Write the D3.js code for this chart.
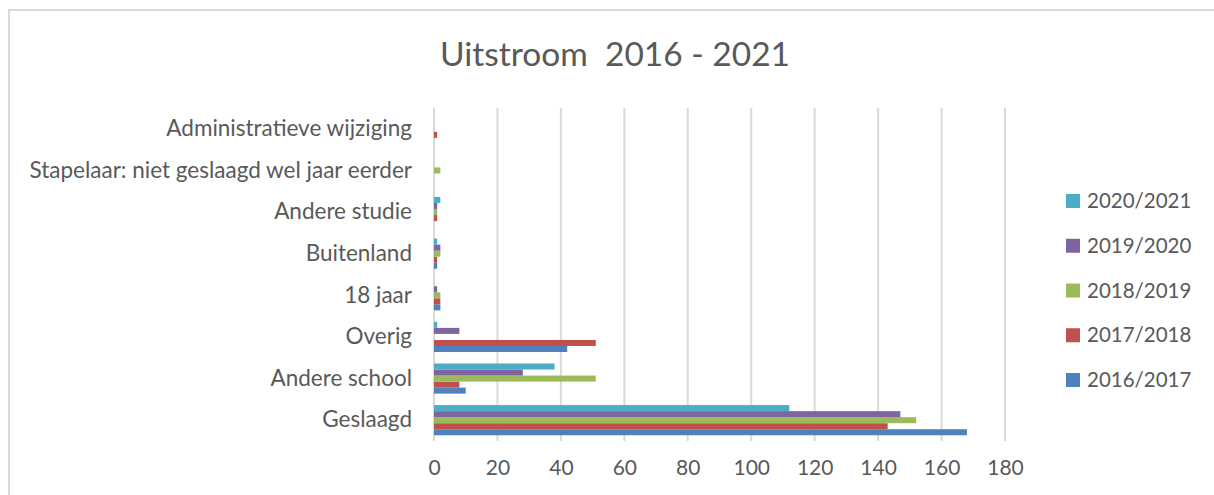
<!DOCTYPE html>
<html lang="nl">
<head>
    <meta charset="UTF-8">
    <title>Uitstroom 2016 - 2021</title>
    <script src="https://d3js.org/d3.v7.min.js"></script>
    <style>
        body{
            margin: 0;
            background: #ffffff;
        }
        text{
            font-family: Lato, sans-serif;
            fill: #595959;
            white-space: pre;
        }
        .grid line{
            stroke: #d9d9d9;
            stroke-width: 2px;
        }
    </style>
</head>
<body>
<svg id="canvas" width="1214" height="495"></svg>
<script>
    // categories, bottom to top as drawn
    let categories = ["Geslaagd", "Andere school", "Overig", "18 jaar", "Buitenland",
        "Andere studie", "Stapelaar: niet geslaagd wel jaar eerder", "Administratieve wijziging"]
    let seriesNames = ["2016/2017", "2017/2018", "2018/2019", "2019/2020", "2020/2021"]
    let colors = ["#4f81bd", "#c0504d", "#9bbb59", "#8064a2", "#4bacc6"]
    let v2016 = [168, 10, 42, 2, 1, 0, 0, 0]
    let v2017 = [143, 8, 51, 2, 1, 1, 0, 1]
    let v2018 = [152, 51, 0, 2, 2, 1, 2, 0]
    let v2019 = [147, 28, 8, 1, 2, 1, 0, 0]
    let v2020 = [112, 38, 1, 0, 1, 2, 0, 0]
    let xTicks = [0, 20, 40, 60, 80, 100, 120, 140, 160, 180]

    let series = [v2016, v2017, v2018, v2019, v2020]
    let svg = d3.select("#canvas")

    // chart border
    svg.append("rect")
        .attr("x", 9).attr("y", 10)
        .attr("width", 1220).attr("height", 500)
        .attr("fill", "white")
        .attr("stroke", "#d9d9d9").attr("stroke-width", 2)

    svg.append("text")
        .attr("x", 615).attr("y", 66)
        .attr("text-anchor", "middle")
        .style("font-size", "33.5px")
        .text("Uitstroom  2016 - 2021")

    let xScale = d3.scaleLinear().domain([0, 180]).range([434, 1005])
    // Geslaagd at bottom
    let yScale = d3.scaleBand().domain(categories).range([441, 108])
    let inner = d3.scaleBand().domain(d3.range(5).reverse())
        .range([0, yScale.bandwidth()]).paddingOuter(0.95)

    let grid = svg.append("g").attr("class", "grid")
    grid.selectAll("line").data(xTicks).join("line")
        .attr("x1", d => xScale(d)).attr("x2", d => xScale(d))
        .attr("y1", 108).attr("y2", 441)

    let groups = svg.append("g").selectAll("g").data(series).join("g")
        .attr("fill", (d, i) => colors[i])
    groups.each(function (vals, si) {
        d3.select(this).selectAll("rect").data(vals).join("rect")
            .attr("x", xScale(0))
            .attr("y", (d, ci) => yScale(categories[ci]) + inner(si))
            .attr("width", d => xScale(d) - xScale(0))
            .attr("height", inner.bandwidth())
    })

    let xAxis = d3.axisBottom(xScale).tickValues(xTicks).tickSize(0).tickPadding(0)
    let gx = svg.append("g").attr("transform", "translate(0,468)").call(xAxis)
    gx.select(".domain").remove()
    gx.selectAll("text").attr("dy", "0.35em").style("font-size", "21px").attr("fill", "#595959")

    let yAxis = d3.axisLeft(yScale).tickSize(0).tickPadding(0)
    let gy = svg.append("g").attr("transform", "translate(412,0)").call(yAxis)
    gy.select(".domain").remove()
    gy.selectAll("text").style("font-size", "22.5px").attr("fill", "#595959")

    // legend, newest on top
    let legendRows = d3.range(5).reverse()
    let legendY = d3.scalePoint().domain(legendRows).range([201, 380])
    let legend = svg.append("g").selectAll("g").data(legendRows).join("g")
        .attr("transform", d => `translate(1066,${legendY(d)})`)
    legend.append("rect")
        .attr("x", 0).attr("y", -7).attr("width", 14).attr("height", 14)
        .attr("fill", d => colors[d])
    legend.append("text")
        .attr("x", 21).attr("dy", "0.35em")
        .style("font-size", "20.5px")
        .text(d => seriesNames[d])
</script>
</body>
</html>
